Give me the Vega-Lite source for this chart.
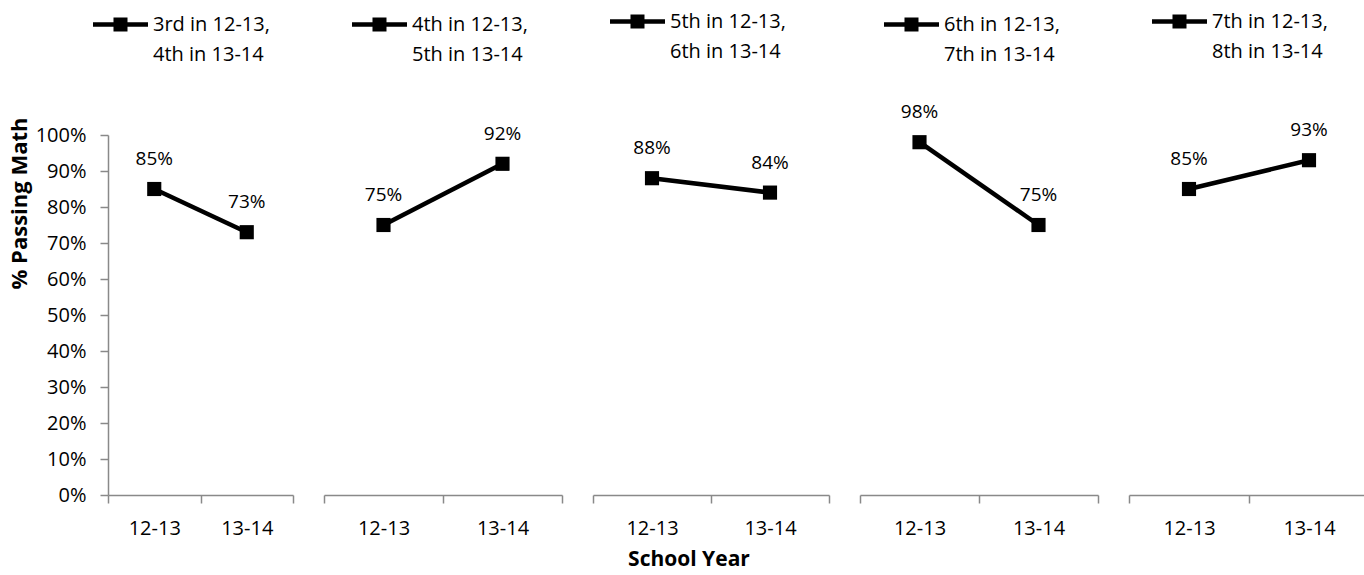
{
  "$schema": "https://vega.github.io/schema/vega-lite/v6.json",
  "background": "white",
  "padding": {"left": 8, "top": 7, "right": 0, "bottom": 0},
  "config": {
    "font": "Open Sans",
    "view": {"stroke": null},
    "axis": {
      "domainColor": "#898989", "domainWidth": 1.5, "tickColor": "#898989", "tickWidth": 1.5,
      "labelColor": "#000000", "labelFont": "Open Sans", "labelFontSize": 20,
      "grid": false, "titleFont": "Open Sans", "titleFontWeight": "bold", "titleColor": "#000000", "titleFontSize": 22
    },
    "legend": {
      "labelFont": "Open Sans", "labelFontSize": 20, "labelColor": "#000000", "labelLimit": 400,
      "symbolType": "M-2.793,-0.155L1,-0.155L1,0.155L-2.793,0.155Z M-1.38,-0.483L-0.414,-0.483L-0.414,0.483L-1.38,0.483Z",
      "symbolSize": 841, "symbolStrokeWidth": 0, "symbolFillColor": "#000000", "labelOffset": 5
    },
    "style": {"guide-label": {"lineHeight": 30}}
  },
  "datasets": {
    "scores": [
      {"cohort": "3rd in 12-13, 4th in 13-14", "year": "12-13", "pct": 0.85},
      {"cohort": "3rd in 12-13, 4th in 13-14", "year": "13-14", "pct": 0.73},
      {"cohort": "4th in 12-13, 5th in 13-14", "year": "12-13", "pct": 0.75},
      {"cohort": "4th in 12-13, 5th in 13-14", "year": "13-14", "pct": 0.92},
      {"cohort": "5th in 12-13, 6th in 13-14", "year": "12-13", "pct": 0.88},
      {"cohort": "5th in 12-13, 6th in 13-14", "year": "13-14", "pct": 0.84},
      {"cohort": "6th in 12-13, 7th in 13-14", "year": "12-13", "pct": 0.98},
      {"cohort": "6th in 12-13, 7th in 13-14", "year": "13-14", "pct": 0.75},
      {"cohort": "7th in 12-13, 8th in 13-14", "year": "12-13", "pct": 0.85},
      {"cohort": "7th in 12-13, 8th in 13-14", "year": "13-14", "pct": 0.93}
    ]
  },
  "title": {"text": "School Year", "orient": "bottom", "anchor": "middle", "font": "Open Sans", "fontSize": 21, "fontWeight": "bold", "color": "#000000", "offset": 11},
  "spacing": 31,
  "bounds": "flush",
  "resolve": {"scale": {"x": "independent", "color": "independent"}, "legend": {"color": "independent"}},
  "hconcat": [
    {
      "width": 185, "height": 360,
      "data": {"name": "scores"},
      "transform": [{"filter": "datum.cohort === '3rd in 12-13, 4th in 13-14'"}],
      "encoding": {
        "x": {"field": "year", "type": "nominal", "scale": {"paddingInner": 0, "paddingOuter": 0}, "axis": {"title": null, "labelAngle": 0, "tickBand": "extent", "tickSize": 8, "labelPadding": 15}},
        "y": {"field": "pct", "type": "quantitative", "scale": {"domain": [0, 1]}, "axis": {"title": "% Passing Math", "format": ".0%", "values": [0, 0.1, 0.2, 0.3, 0.4, 0.5, 0.6, 0.7, 0.8, 0.9, 1], "tickSize": 8, "labelPadding": 14, "titlePadding": 4, "titleY": 68}}
      },
      "layer": [
        {"mark": {"type": "line", "color": "#000000", "strokeWidth": 4.5}},
        {"mark": {"type": "point", "shape": "square", "filled": true, "size": 200, "opacity": 1},
         "encoding": {"color": {"field": "cohort", "type": "nominal", "scale": {"range": ["#000000"]},
           "legend": {"title": null, "orient": "none", "legendX": 11, "legendY": -125, "labelExpr": "[split(datum.label, ', ')[0] + ',', split(datum.label, ', ')[1]]"}}}},
        {"mark": {"type": "text", "dy": -30, "fontSize": 19, "font": "Open Sans", "color": "#000000"},
         "encoding": {"text": {"field": "pct", "type": "quantitative", "format": ".0%"}}}
      ]
    },
    {
      "width": 238, "height": 360,
      "data": {"name": "scores"},
      "transform": [{"filter": "datum.cohort === '4th in 12-13, 5th in 13-14'"}],
      "encoding": {
        "x": {"field": "year", "type": "nominal", "scale": {"paddingInner": 0, "paddingOuter": 0}, "axis": {"title": null, "labelAngle": 0, "tickBand": "extent", "tickSize": 8, "labelPadding": 15}},
        "y": {"field": "pct", "type": "quantitative", "scale": {"domain": [0, 1]}, "axis": null}
      },
      "layer": [
        {"mark": {"type": "line", "color": "#000000", "strokeWidth": 4.5}},
        {"mark": {"type": "point", "shape": "square", "filled": true, "size": 200, "opacity": 1},
         "encoding": {"color": {"field": "cohort", "type": "nominal", "scale": {"range": ["#000000"]},
           "legend": {"title": null, "orient": "none", "legendX": 54, "legendY": -125, "labelExpr": "[split(datum.label, ', ')[0] + ',', split(datum.label, ', ')[1]]"}}}},
        {"mark": {"type": "text", "dy": -30, "fontSize": 19, "font": "Open Sans", "color": "#000000"},
         "encoding": {"text": {"field": "pct", "type": "quantitative", "format": ".0%"}}}
      ]
    },
    {
      "width": 236, "height": 360,
      "data": {"name": "scores"},
      "transform": [{"filter": "datum.cohort === '5th in 12-13, 6th in 13-14'"}],
      "encoding": {
        "x": {"field": "year", "type": "nominal", "scale": {"paddingInner": 0, "paddingOuter": 0}, "axis": {"title": null, "labelAngle": 0, "tickBand": "extent", "tickSize": 8, "labelPadding": 15}},
        "y": {"field": "pct", "type": "quantitative", "scale": {"domain": [0, 1]}, "axis": null}
      },
      "layer": [
        {"mark": {"type": "line", "color": "#000000", "strokeWidth": 4.5}},
        {"mark": {"type": "point", "shape": "square", "filled": true, "size": 200, "opacity": 1},
         "encoding": {"color": {"field": "cohort", "type": "nominal", "scale": {"range": ["#000000"]},
           "legend": {"title": null, "orient": "none", "legendX": 43, "legendY": -128, "labelExpr": "[split(datum.label, ', ')[0] + ',', split(datum.label, ', ')[1]]"}}}},
        {"mark": {"type": "text", "dy": -30, "fontSize": 19, "font": "Open Sans", "color": "#000000"},
         "encoding": {"text": {"field": "pct", "type": "quantitative", "format": ".0%"}}}
      ]
    },
    {
      "width": 238, "height": 360,
      "data": {"name": "scores"},
      "transform": [{"filter": "datum.cohort === '6th in 12-13, 7th in 13-14'"}],
      "encoding": {
        "x": {"field": "year", "type": "nominal", "scale": {"paddingInner": 0, "paddingOuter": 0}, "axis": {"title": null, "labelAngle": 0, "tickBand": "extent", "tickSize": 8, "labelPadding": 15}},
        "y": {"field": "pct", "type": "quantitative", "scale": {"domain": [0, 1]}, "axis": null}
      },
      "layer": [
        {"mark": {"type": "line", "color": "#000000", "strokeWidth": 4.5}},
        {"mark": {"type": "point", "shape": "square", "filled": true, "size": 200, "opacity": 1},
         "encoding": {"color": {"field": "cohort", "type": "nominal", "scale": {"range": ["#000000"]},
           "legend": {"title": null, "orient": "none", "legendX": 50, "legendY": -125, "labelExpr": "[split(datum.label, ', ')[0] + ',', split(datum.label, ', ')[1]]"}}}},
        {"mark": {"type": "text", "dy": -30, "fontSize": 19, "font": "Open Sans", "color": "#000000"},
         "encoding": {"text": {"field": "pct", "type": "quantitative", "format": ".0%"}}}
      ]
    },
    {
      "width": 240, "height": 360,
      "data": {"name": "scores"},
      "transform": [{"filter": "datum.cohort === '7th in 12-13, 8th in 13-14'"}],
      "encoding": {
        "x": {"field": "year", "type": "nominal", "scale": {"paddingInner": 0, "paddingOuter": 0}, "axis": {"title": null, "labelAngle": 0, "tickBand": "extent", "tickSize": 8, "labelPadding": 15}},
        "y": {"field": "pct", "type": "quantitative", "scale": {"domain": [0, 1]}, "axis": null}
      },
      "layer": [
        {"mark": {"type": "line", "color": "#000000", "strokeWidth": 4.5}},
        {"mark": {"type": "point", "shape": "square", "filled": true, "size": 200, "opacity": 1},
         "encoding": {"color": {"field": "cohort", "type": "nominal", "scale": {"range": ["#000000"]},
           "legend": {"title": null, "orient": "none", "legendX": 49, "legendY": -128, "labelExpr": "[split(datum.label, ', ')[0] + ',', split(datum.label, ', ')[1]]"}}}},
        {"mark": {"type": "text", "dy": -30, "fontSize": 19, "font": "Open Sans", "color": "#000000"},
         "encoding": {"text": {"field": "pct", "type": "quantitative", "format": ".0%"}}}
      ]
    }
  ]
}
